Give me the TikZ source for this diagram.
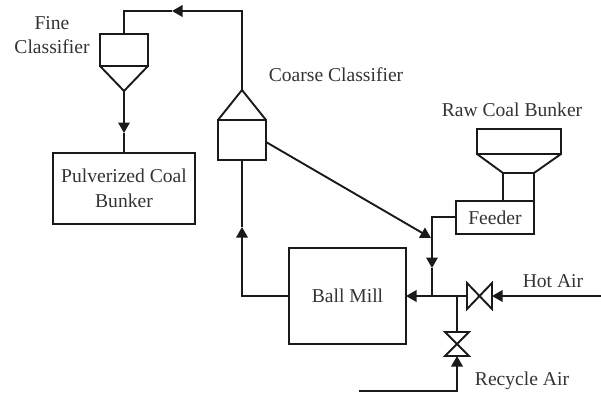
\documentclass[tikz,border=0pt]{standalone}
\usepackage{fontspec}
\setmainfont{Liberation Serif}
\usetikzlibrary{arrows.meta}
\definecolor{ink}{HTML}{1A1A1A}
\definecolor{txt}{HTML}{333333}
\tikzset{
  pipe/.style={draw=ink,line width=1.9pt,line join=miter},
  flow/.style={pipe,-{Triangle[length=10.5pt,width=11.5pt]}},
  boxn/.style={draw=ink,line width=1.9pt,inner sep=0pt,outer sep=0pt,align=center,text=txt,font=\fontsize{19.6}{24.5}\selectfont,anchor=north west},
  lab/.style={text=txt,inner sep=0pt,align=center,font=\fontsize{19.6}{24}\selectfont}
}
\begin{document}
\begin{tikzpicture}[x=1pt,y=-1pt]
\useasboundingbox (0,0) rectangle (601,399);
% boxes
\node[boxn,minimum width=48pt,minimum height=32pt] (fine) at (100,34) {};
\node[boxn,minimum width=48pt,minimum height=40pt] (coarse) at (218,120) {};
\node[boxn,minimum width=142pt,minimum height=71pt] (pulv) at (53,153) {Pulverized Coal\\Bunker};
\node[boxn,minimum width=117pt,minimum height=96pt] (mill) at (289,248) {Ball Mill};
\node[boxn,minimum width=78pt,minimum height=33pt] (feeder) at (456,201) {Feeder};
\node[boxn,minimum width=84pt,minimum height=25pt] (raw) at (477,129) {};
\node[boxn,minimum width=31pt,minimum height=28pt] (rawneck) at (503,173) {};
% cones
\coordinate (fineapex) at (124,91);
\coordinate (coarseapex) at (242,90);
\draw[pipe] (fine.south west) -- (fineapex) -- (fine.south east);
\draw[pipe] (coarse.north west) -- (coarseapex) -- (coarse.north east);
\draw[pipe] (raw.south west) -- (rawneck.north west) -- (rawneck.north east) -- (raw.south east);
% valves
\coordinate (hl1) at (467,283); \coordinate (hl2) at (467,309);
\coordinate (hr1) at (492,283); \coordinate (hr2) at (492,309);
\draw[pipe] (hl1) -- (hr2) -- (hr1) -- (hl2) -- cycle;
\coordinate (rt1) at (445,332); \coordinate (rt2) at (469,332);
\coordinate (rb1) at (445,356); \coordinate (rb2) at (469,356);
\draw[pipe] (rt1) -- (rt2) -- (rb1) -- (rb2) -- cycle;
% connectors
\coordinate (topR) at (242,11); \coordinate (topL) at (124,11); \coordinate (topM) at (172,11);
\draw[flow] (coarseapex) -- (topR) -- (topM);
\draw[pipe] (topM) -- (topL) -- (fine.north);
\coordinate (downM) at (124,133);
\draw[flow] (fineapex) -- (downM);
\draw[pipe] (downM) -- (pulv.north -| downM);
\coordinate (upM) at (242,227);
\draw[flow] (mill.west) -- (mill.west -| upM) -- (upM);
\draw[pipe] (upM) -- (coarse.south);
\coordinate (diagS) at (266,142); \coordinate (diagE) at (431,238);
\draw[flow] (diagS) -- (diagE);
\coordinate (feedL) at (432,217); \coordinate (feedM) at (432,268); \coordinate (feedB) at (432,296);
\draw[flow] (feeder.west |- feedL) -- (feedL) -- (feedM);
\draw[pipe] (feedM) -- (feedB);
\coordinate (hotE) at (601,296); \coordinate (hotV) at (492,296);
\coordinate (hotW) at (467,296); \coordinate (junc) at (457,296);
\draw[flow] (hotE) -- (hotV);
\draw[flow] (hotW) -- (mill.east |- hotW);
\coordinate (recT) at (457,332); \coordinate (recB) at (457,356);
\draw[pipe] (junc) -- (recT);
\coordinate (recC) at (457,391); \coordinate (recL) at (359,391);
\draw[flow] (recL) -- (recC) -- (recB);
% labels
\node[lab] (t1) at (52,35) {Fine\\Classifier};
\node[lab] (t2) at (336,75) {Coarse Classifier};
\node[lab] (t3) at (512,110) {Raw Coal Bunker};
\node[lab] (t4) at (553,281) {Hot Air};
\node[lab] (t5) at (522,381) {Recycle Air};
\end{tikzpicture}
\end{document}
